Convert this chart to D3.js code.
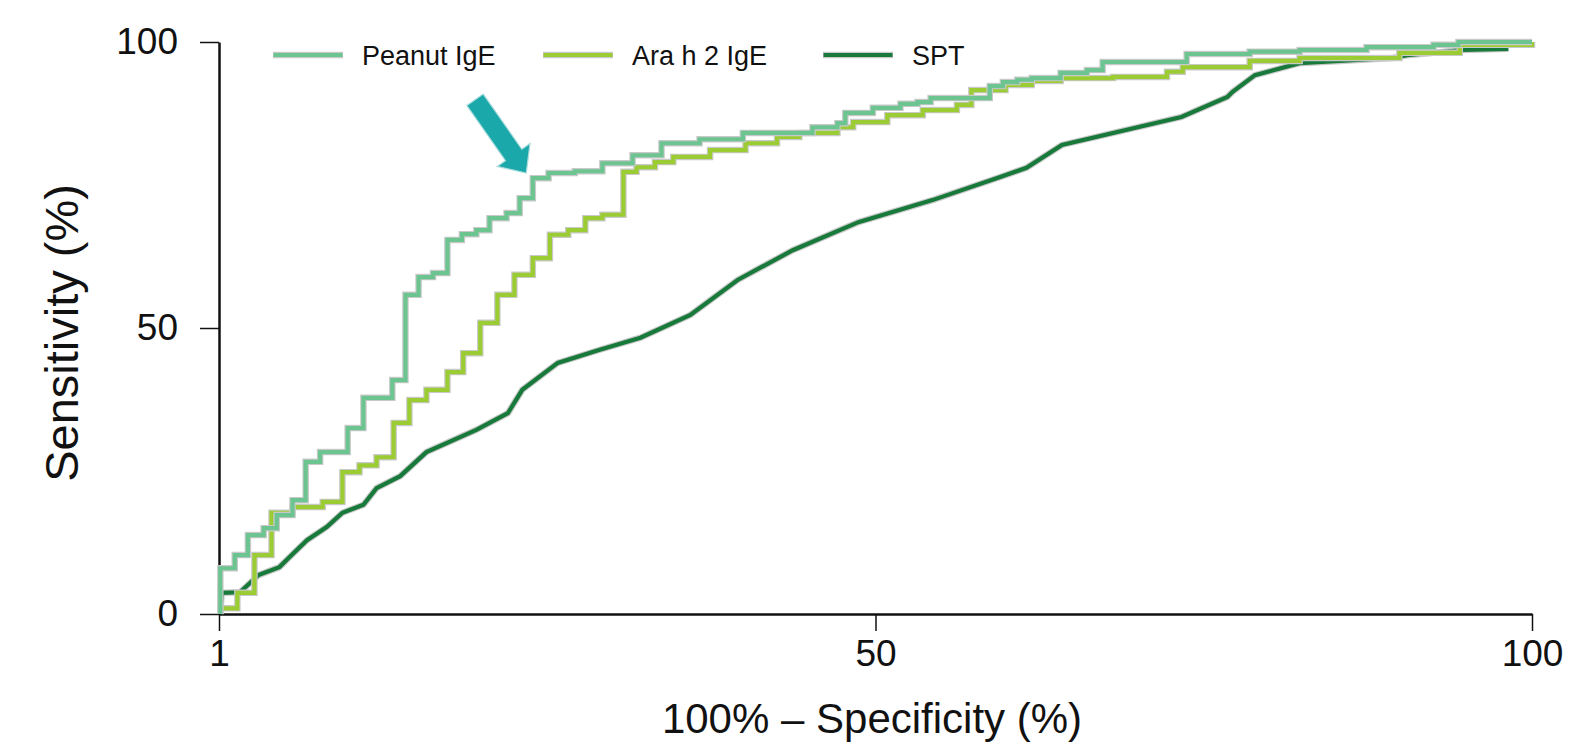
<!DOCTYPE html>
<html><head><meta charset="utf-8">
<script src="https://cdn.jsdelivr.net/npm/d3@7"></script>
<style>
html,body{margin:0;padding:0;background:#fff;}
svg text{font-family:"Liberation Sans",Arial,sans-serif;fill:#111;}
</style></head>
<body><svg id="c" width="1572" height="746"></svg>
<script>
// ---- data (100% - specificity, sensitivity) ----
const seriesNames = ["Peanut IgE", "Ara h 2 IgE", "SPT"];
const peanutX = [0.1,0.1,1.2,2.2,3.4,4.4,5.6,6.6,7.7,9.8,11.0,13.2,14.2,15.2,16.3,17.4,18.5,19.6,20.6,21.9,22.9,23.9,25.1,27.1,29.2,31.5,33.7,36.6,39.9,45.2,47.1,47.7,49.8,51.9,53.2,54.2,58.7,59.7,60.8,61.9,64.1,66.1,67.3,73.7,78.5,82.3,87.4,92.5,94.4,100];
const peanutY = [0,8.0,10.3,13.8,15.0,17.3,19.9,26.6,28.3,32.5,37.8,40.9,55.8,58.9,59.6,65.4,66.4,67.1,69.2,70.1,72.7,76.2,77.1,77.4,78.8,80.2,82.3,83.0,84.1,85.1,85.8,87.6,88.5,89.2,89.5,90.2,92.3,93.0,93.4,93.7,94.6,95.1,96.5,97.9,98.3,98.6,99.1,99.5,100,100];
const araX = [0.1,0.1,1.4,2.7,4.0,5.6,7.9,9.4,10.7,12.0,13.3,14.5,15.8,17.4,18.6,19.9,21.2,22.5,23.9,25.2,26.6,27.9,29.2,30.8,31.8,33.2,34.6,37.4,40.1,42.5,44.2,47.1,48.3,50.9,53.6,56.2,57.3,59.9,61.9,64.1,68.1,72.2,73.4,78.5,82.3,89.9,94.5,100];
const araY = [0,1.0,3.7,10.3,17.7,18.7,19.6,24.8,26.0,27.4,33.4,37.4,39.2,42.3,45.6,50.9,55.8,59.3,62.2,66.3,67.1,69.2,69.8,77.3,78.1,79.0,79.9,81.1,82.3,83.4,84.1,85.1,86.0,87.2,88.1,89.0,91.6,92.5,93.2,93.7,93.9,94.8,95.6,96.7,97.2,98.1,99.5,100];
const sptX = [0.1,0.2,1.6,3.0,4.6,5.4,6.7,8.2,9.4,11.0,12.0,13.8,15.8,19.6,22.0,23.1,25.8,29.0,32.1,35.9,39.5,43.7,48.7,54.4,59.5,61.5,64.2,73.3,76.8,77.2,78.9,82.3,89.4,90.5,94.7,98.2];
const sptY = [0,3.7,3.8,6.8,8.2,10.0,12.9,15.2,17.7,19.1,22.0,24.1,28.3,32.2,35.1,39.2,43.9,46.2,48.3,52.3,58.4,63.6,68.5,72.4,76.4,78.0,82.0,86.9,90.4,91.3,94.2,96.3,97.2,97.7,98.6,98.8];
const xTickValues = [0, 50, 100];
const xTickLabels = ["1", "50", "100"];
const yTickValues = [0, 50, 100];
const arrowTail = [19.5, 89.9];
const arrowTip = [23.4, 77.1];

// ---- layout ----
const colors = ["#6cc491", "#9ccc34", "#17793a"];
const svg = d3.select("#c");
const x = d3.scaleLinear().domain([0, 100]).range([219, 1532]);
const y = d3.scaleLinear().domain([0, 100]).range([614, 42]);

// axes
const xAxis = svg.append("g").attr("transform", "translate(0,614)")
  .call(d3.axisBottom(x).tickValues(xTickValues).tickFormat((d,i)=>xTickLabels[i]).tickSize(17).tickSizeOuter(0).tickPadding(9));
const yAxis = svg.append("g").attr("transform", "translate(219,0)")
  .call(d3.axisLeft(y).tickValues(yTickValues).tickSize(19).tickSizeOuter(0).tickPadding(22));
[xAxis, yAxis].forEach(g => {
  g.select(".domain").attr("stroke", "#111").attr("stroke-width", 2.5);
  g.selectAll(".tick line").attr("stroke", "#111").attr("stroke-width", 1.5);
  g.selectAll(".tick text").attr("font-size", 37).attr("fill", "#111")
    .style("font-family", '"Liberation Sans",Arial,sans-serif');
});

// lines
const stepLine = d3.line().x(d => x(d[0])).y(d => y(d[1])).curve(d3.curveStepAfter);
const linLine = d3.line().x(d => x(d[0])).y(d => y(d[1]));
const series = [
  {pts: sptX.map((v,i)=>[v, sptY[i]]), gen: linLine, c: colors[2]},
  {pts: araX.map((v,i)=>[v, araY[i]]), gen: stepLine, c: colors[1]},
  {pts: peanutX.map((v,i)=>[v, peanutY[i]]), gen: stepLine, c: colors[0]}
];
series.forEach(s => {
  svg.append("path").attr("d", s.gen(s.pts)).attr("fill", "none")
    .attr("stroke", "#c9c9c9").attr("stroke-width", 6.5).attr("stroke-linejoin", "miter");
  svg.append("path").attr("d", s.gen(s.pts)).attr("fill", "none")
    .attr("stroke", s.c).attr("stroke-width", 4.2).attr("stroke-linejoin", "miter");
});

// legend
const legX = [273, 543, 823];
seriesNames.forEach((n, i) => {
  const g = svg.append("g").attr("transform", `translate(${legX[i]},55)`);
  g.append("line").attr("x1", 0).attr("x2", 70).attr("stroke", "#c9c9c9").attr("stroke-width", 6.5);
  g.append("line").attr("x1", 0.5).attr("x2", 69.5).attr("stroke", colors[i]).attr("stroke-width", 4.2);
  g.append("text").attr("x", 89).attr("y", 9.5).attr("font-size", 27).text(n);
});

// arrow
(function(){
  const tx = x(arrowTail[0]), ty = y(arrowTail[1]);
  const px = x(arrowTip[0]), py = y(arrowTip[1]);
  const L = Math.hypot(px - tx, py - ty);
  const ux = (px - tx) / L, uy = (py - ty) / L;
  const nx = -uy, ny = ux;
  const headLen = 22, sw = 10, hw = 20;
  const bx = px - ux * headLen, by = py - uy * headLen;
  const p = [
    [tx + nx*sw, ty + ny*sw], [bx + nx*sw, by + ny*sw], [bx + nx*hw, by + ny*hw],
    [px, py], [bx - nx*hw, by - ny*hw], [bx - nx*sw, by - ny*sw], [tx - nx*sw, ty - ny*sw]
  ];
  svg.append("polygon").attr("points", p.map(q => q.join(",")).join(" "))
    .attr("fill", "#1ba8aa").attr("stroke", "#a9dcdc").attr("stroke-width", 1.2);
})();

// axis titles
svg.append("text").attr("x", 872).attr("y", 733).attr("text-anchor", "middle")
  .attr("font-size", 42).text("100% – Specificity (%)");
svg.append("text").attr("transform", "translate(78,333) rotate(-90)").attr("text-anchor", "middle")
  .attr("font-size", 47).text("Sensitivity (%)");
</script></body></html>
